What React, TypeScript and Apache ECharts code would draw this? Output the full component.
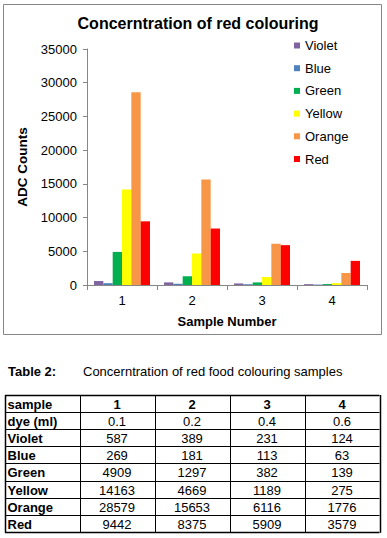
import React, { useEffect, useRef } from "react";
import * as echarts from "echarts";

const categories = ["1", "2", "3", "4"];
const dyeMl = ["0.1", "0.2", "0.4", "0.6"];
const seriesNames = ["Violet", "Blue", "Green", "Yellow", "Orange", "Red"];
const violet = [587, 389, 231, 124];
const blue = [269, 181, 113, 63];
const green = [4909, 1297, 382, 139];
const yellow = [14163, 4669, 1189, 275];
const orange = [28579, 15653, 6116, 1776];
const red = [9442, 8375, 5909, 3579];
const seriesValues = [violet, blue, green, yellow, orange, red];
const seriesColors = ["#8064A2", "#4F81BD", "#00B050", "#FFFF00", "#F79646", "#FF0000"];
const yTicks = { min: 0, max: 35000, interval: 5000 };
const chartTitle = "Concerntration of red colouring";
const tableLabel = "Table 2:";
const tableCaption = "Concerntration of red food colouring samples";

const FONT = "'Liberation Sans', Arial, sans-serif";

function buildTable(): any[] {
  const els: any[] = [];
  const left = 5;
  const top = 395;
  const firstW = 74.5;
  const colW = 75;
  const rowH = 17.1;
  const rows: { label: string; cells: string[]; boldCells: boolean }[] = [
    { label: "sample", cells: categories, boldCells: true },
    { label: "dye (ml)", cells: dyeMl, boldCells: false },
    ...seriesNames.map((n, i) => ({
      label: n,
      cells: seriesValues[i].map((v) => String(v)),
      boldCells: false,
    })),
  ];
  const width = firstW + colW * categories.length;
  const height = rowH * rows.length;
  for (let r = 0; r <= rows.length; r++) {
    const y = Math.round(top + r * rowH) + 0.5;
    els.push({
      type: "line",
      shape: { x1: left, y1: y, x2: left + width, y2: y },
      style: { stroke: "#000", lineWidth: r === 0 || r === rows.length ? 1.5 : 1 },
    });
  }
  const xs = [left, left + firstW];
  for (let c = 1; c <= categories.length; c++) xs.push(left + firstW + c * colW);
  xs.forEach((x, i) => {
    const xx = Math.round(x) + 0.5;
    els.push({
      type: "line",
      shape: { x1: xx, y1: top, x2: xx, y2: top + height + 1 },
      style: { stroke: "#000", lineWidth: i === 0 || i === xs.length - 1 ? 1.5 : 1 },
    });
  });
  rows.forEach((row, r) => {
    const cy = top + r * rowH + rowH / 2 + 1;
    els.push({
      type: "text",
      x: left + 2.5,
      y: cy,
      style: {
        text: row.label,
        fontSize: 13,
        fontWeight: "bold",
        fontFamily: FONT,
        fill: "#000",
        align: "left",
        verticalAlign: "middle",
      },
    });
    row.cells.forEach((t, c) => {
      els.push({
        type: "text",
        x: left + firstW + c * colW + colW / 2,
        y: cy,
        style: {
          text: t,
          fontSize: 13,
          fontWeight: row.boldCells ? "bold" : "normal",
          fontFamily: FONT,
          fill: "#000",
          align: "center",
          verticalAlign: "middle",
        },
      });
    });
  });
  return els;
}

export default function App() {
  const ref = useRef<HTMLDivElement>(null);
  useEffect(() => {
    if (!ref.current) return;
    const chart = echarts.init(ref.current, undefined, { renderer: "svg" });
    const axisColor = "#868686";
    chart.setOption({
      animation: false,
      backgroundColor: "#fff",
      title: {
        text: chartTitle,
        left: 193,
        textAlign: "center",
        top: 10,
        textStyle: { fontSize: 16, fontWeight: "bold", color: "#000", fontFamily: FONT },
      },
      legend: {
        orient: "vertical",
        left: 289,
        top: 33.5,
        icon: "rect",
        itemWidth: 6,
        itemHeight: 6,
        itemGap: 8.7,
        textStyle: { fontSize: 13, color: "#000", fontFamily: FONT, lineHeight: 14 },
        data: seriesNames,
      },
      grid: { left: 87, top: 49, right: 20, bottom: 253, containLabel: false },
      xAxis: {
        type: "category",
        data: categories,
        name: "Sample Number",
        nameLocation: "middle",
        nameGap: 30,
        nameTextStyle: { fontSize: 13, fontWeight: "bold", color: "#000", fontFamily: FONT },
        axisLine: { show: true, lineStyle: { color: axisColor, width: 1 } },
        axisTick: { show: true, alignWithLabel: false, length: 5, lineStyle: { color: axisColor } },
        axisLabel: { fontSize: 13, color: "#000", margin: 9, fontFamily: FONT },
        splitLine: { show: false },
      },
      yAxis: {
        type: "value",
        min: yTicks.min,
        max: yTicks.max,
        interval: yTicks.interval,
        name: "ADC Counts",
        nameLocation: "middle",
        nameGap: 44,
        nameTextStyle: { fontSize: 13.5, fontWeight: "bold", color: "#000", fontFamily: FONT },
        axisLine: { show: true, lineStyle: { color: axisColor, width: 1 } },
        axisTick: { show: true, length: 4, lineStyle: { color: axisColor } },
        axisLabel: {
          fontSize: 13,
          color: "#000",
          margin: 10,
          fontFamily: FONT,
          formatter: (v: number) => String(v),
        },
        splitLine: { show: false },
      },
      series: seriesNames.map((name, i) => ({
        name,
        type: "bar",
        data: seriesValues[i],
        barGap: "0%",
        barCategoryGap: "20%",
        itemStyle: { color: seriesColors[i] },
      })),
      graphic: [
        {
          type: "rect",
          shape: { x: 3.5, y: 4.5, width: 378, height: 330 },
          style: { fill: "none", stroke: axisColor, lineWidth: 1 },
          silent: true,
        },
        {
          type: "text",
          x: 8,
          y: 371,
          style: {
            text: tableLabel,
            fontSize: 13,
            fontWeight: "bold",
            fontFamily: FONT,
            fill: "#000",
            verticalAlign: "middle",
          },
        },
        {
          type: "text",
          x: 83,
          y: 371,
          style: {
            text: tableCaption,
            fontSize: 13,
            fontFamily: FONT,
            fill: "#000",
            verticalAlign: "middle",
          },
        },
        ...buildTable(),
      ],
    });
    return () => chart.dispose();
  }, []);
  return (
    <div
      ref={ref}
      style={{ position: "absolute", left: 0, top: 0, width: 387, height: 538, background: "#fff" }}
    />
  );
}
